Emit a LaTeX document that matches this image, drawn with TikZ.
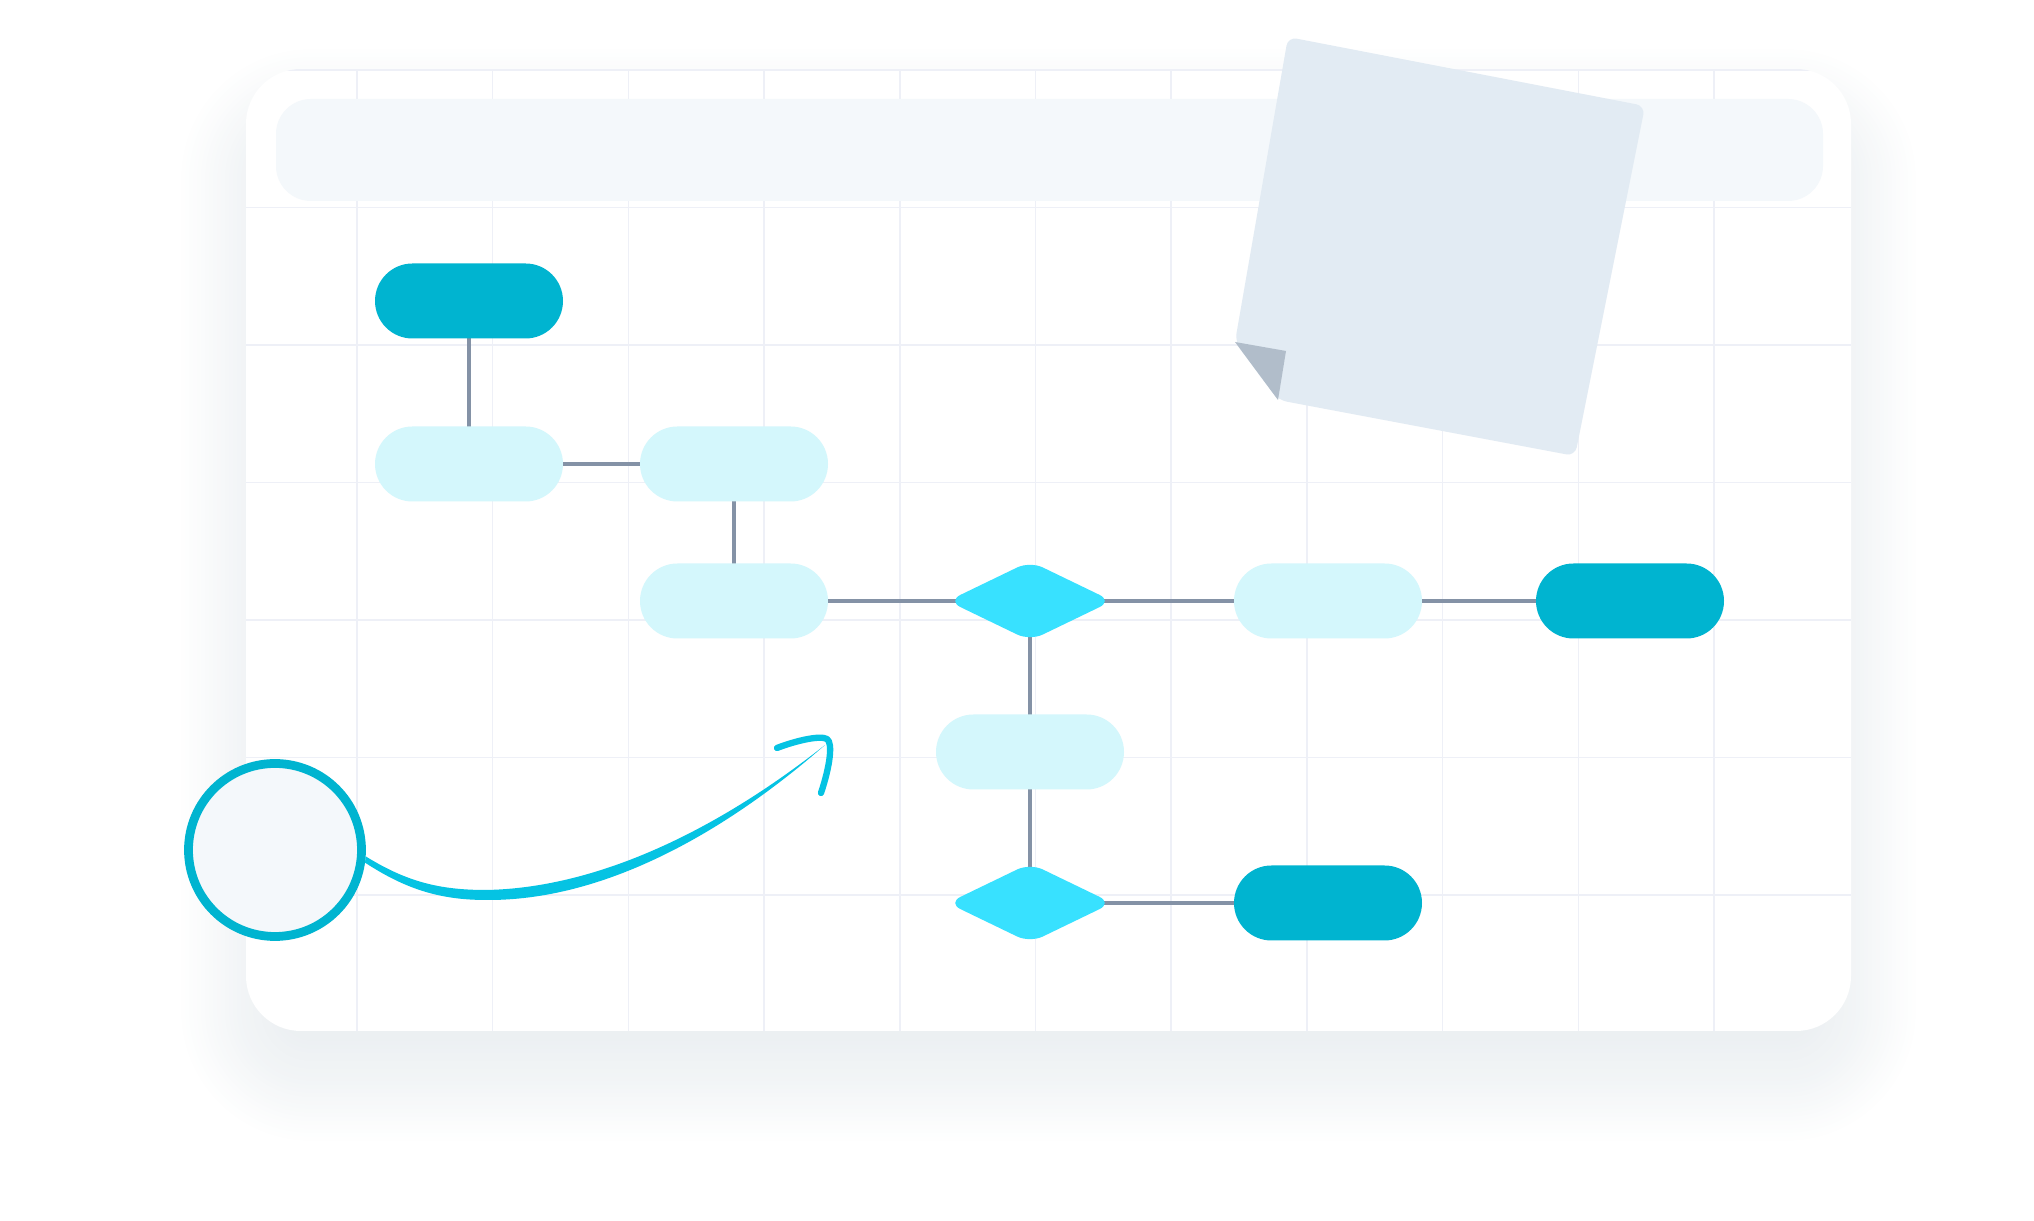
\documentclass[tikz,border=0pt]{standalone}
\usepackage{xcolor}
\usepackage{tikz}
\usetikzlibrary{arrows.meta,backgrounds,shapes.geometric}
\definecolor{TealDk}{RGB}{0,180,208}
\definecolor{TealLt}{RGB}{212,247,252}
\definecolor{CyanDm}{RGB}{56,225,255}
\definecolor{LinkGr}{RGB}{132,146,166}
\definecolor{GridC}{RGB}{238,240,247}
\definecolor{PanelC}{RGB}{244,248,251}
\definecolor{NoteC}{RGB}{226,235,243}
\definecolor{FoldC}{RGB}{177,189,202}
\definecolor{SwooshC}{RGB}{5,195,227}
\definecolor{ShadeC}{RGB}{184,198,207}
\tikzset{
  pill/.style={rectangle,rounded corners=0.375cm,minimum width=1.88cm,
               minimum height=0.75cm,inner sep=0pt},
  endpill/.style={pill,fill=TealDk},
  steppill/.style={pill,fill=TealLt},
  decision/.style={diamond,aspect=2,rounded corners=4pt,minimum width=1.65cm,
                   minimum height=0.80cm,inner sep=0pt,fill=CyanDm},
  link/.style={LinkGr,line width=1pt},
  gridln/.style={GridC,line width=0.45pt},
  startnode/.style={circle,draw=TealDk,line width=2.5pt,fill=PanelC,
                    minimum size=1.73cm,inner sep=0pt},
}

\begin{document}
\begin{tikzpicture}[line join=round]
  \useasboundingbox (0,0) rectangle (20.34,12.21);
  \node[endpill]   (n1) at (4.69,9.20) {};
  \node[steppill]  (n2) at (4.69,7.57) {};
  \node[steppill]  (n3) at (7.34,7.57) {};
  \node[steppill]  (n4) at (7.34,6.20) {};
  \node[decision]  (d1) at (10.30,6.20) {};
  \node[steppill]  (n5) at (13.28,6.20) {};
  \node[endpill]   (n6) at (16.30,6.20) {};
  \node[steppill]  (n7) at (10.30,4.69) {};
  \node[decision]  (d2) at (10.30,3.18) {};
  \node[endpill]   (n8) at (13.28,3.18) {};

  \begin{scope}[on background layer]
    % card with soft shadow
    \foreach \e [evaluate=\e as \r using 0.3+\e] in {0,0.04,...,1.0}
      \fill[ShadeC,fill opacity=0.012,rounded corners=\r cm]
        (2.81-\e,1.80-\e) rectangle (18.16+\e,10.72+\e);
    \fill[white,rounded corners=0.55cm] (2.46,1.90) rectangle (18.51,11.52);
    \begin{scope}
      \clip[rounded corners=0.55cm] (2.46,1.90) rectangle (18.51,11.52);
      \foreach \i in {0,...,10}
        \draw[gridln] (3.57+1.357*\i,1.90) -- ++(0,9.62);
      \foreach \j in {0,...,7}
        \draw[gridln] (2.46,11.51-1.375*\j) -- ++(16.05,0);
    \end{scope}
    \fill[PanelC,rounded corners=0.35cm] (2.76,10.20) rectangle (18.23,11.22);

    % sticky note
    \coordinate (fl) at (12.35,8.79);
    \coordinate (ft) at (12.78,8.21);
    \coordinate (fi) at (12.86,8.70);
    \fill[NoteC,rounded corners=2.5pt] (fl) -- (12.88,11.84) -- (16.45,11.15)
      -- (15.75,7.65) -- (ft) -- cycle;
    \fill[FoldC] (fl) -- (fi) -- (ft) -- cycle;

    \foreach \a/\b in {n1/n2,n2/n3,n3/n4,n4/d1,d1/n5,n5/n6,d1/n7,n7/d2,d2/n8}
      \draw[link] (\a.center) -- (\b.center);
  \end{scope}

  \node[startnode] (src) at (2.75,3.71) {};
  \coordinate (tip) at (8.25,4.76);
  \coordinate (hl) at (7.77,4.73);
  \coordinate (hr) at (8.21,4.28);
  \fill[SwooshC] (src.-4) .. controls (4.07,3.39) and (4.40,3.31) .. (4.86,3.31)
    .. controls (6.00,3.33) and (7.20,3.93) .. (tip)
    .. controls (7.22,3.86) and (6.02,3.20) .. (4.86,3.21)
    .. controls (4.38,3.21) and (4.04,3.33) .. (src.-8) -- cycle;
  \draw[SwooshC,line width=1.8pt,line cap=round] (hl)
    .. controls (7.95,4.80) and (8.20,4.86) .. (8.27,4.82)
    .. controls (8.33,4.78) and (8.30,4.55) .. (hr);
\end{tikzpicture}
\end{document}
